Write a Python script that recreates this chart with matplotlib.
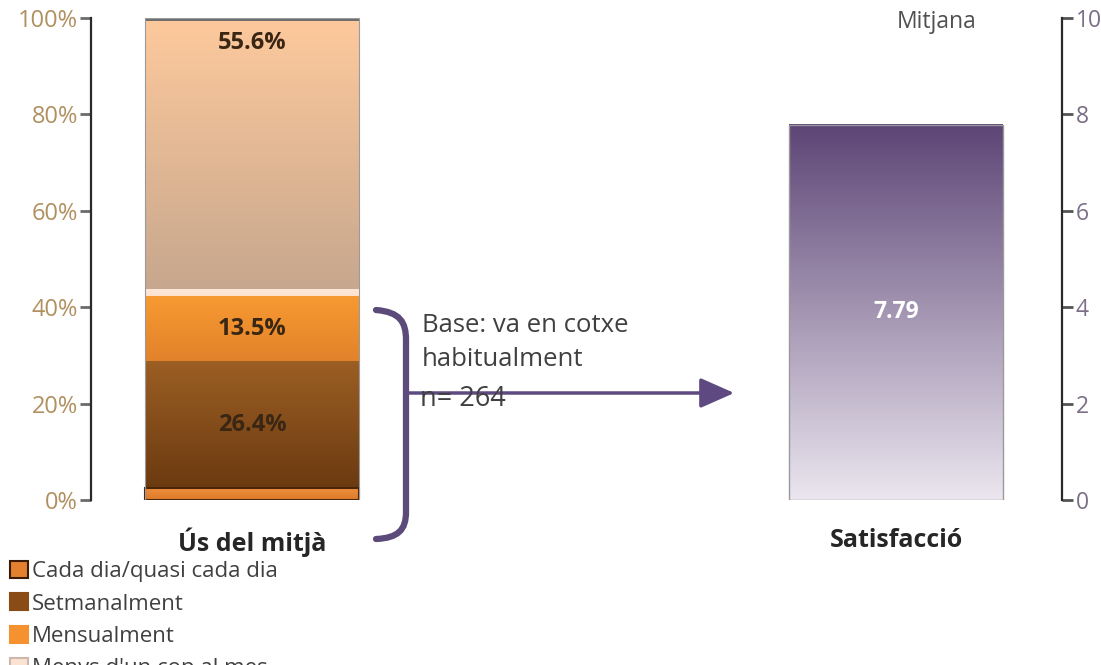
import matplotlib
matplotlib.use("Agg")
import matplotlib.pyplot as plt
import numpy as np
from matplotlib.patches import Patch, PathPatch, FancyArrowPatch
from matplotlib.path import Path
from matplotlib.colors import LinearSegmentedColormap

plt.rcParams['font.family'] = ['Open Sans', 'DejaVu Sans']

# ---------------- data ----------------
categories = ["Ús del mitjà", "Satisfacció"]
freq_labels = ["Cada dia/quasi cada dia", "Setmanalment", "Mensualment",
               "Menys d'un cop al mes"]
freq_values = [2.4, 26.4, 13.5, 1.4, 55.6, 0.7]
freq_shown = [False, True, True, False, True, False]
satisfaction_mean = 7.79
pct_ticks = [0, 20, 40, 60, 80, 100]
pct_tick_labels = ["0%", "20%", "40%", "60%", "80%", "100%"]
score_ticks = [0, 2, 4, 6, 8, 10]

# ---------------- style ----------------
seg_top = ["#ee8f3e", "#9c5f24", "#f89a32", "#fde8d8", "#fdc99c", "#6e6e6e"]
seg_bot = ["#dd7a28", "#6b3a10", "#e2822a", "#fbe2cf", "#c7a78e", "#6e6e6e"]
seg_edge = ["#4a2508", None, None, None, None, None]
legend_face = ["#e3812f", "#8a4c16", "#f5922f", "#fbe3d3"]
legend_edge = ["#3a1c06", "#8a4c16", "#f5922f", "#cdb8aa"]

W, H = 1101, 665
fig = plt.figure(figsize=(W / 100, H / 100), dpi=100)
ax1 = fig.add_axes([91 / W, 165 / H, 971 / W, 482 / H])
ax2 = ax1.twinx()

bar_w = 0.332
xpos = [0, 1]


def grad_fill(ax, x, y, w, h, top, bottom, z):
    cmap = LinearSegmentedColormap.from_list("g", [bottom, top])
    arr = np.linspace(0, 1, 256).reshape(-1, 1)
    ax.imshow(arr, cmap=cmap, extent=[x - w / 2, x + w / 2, y, y + h],
              origin="lower", aspect="auto", zorder=z, interpolation="bilinear")


# stacked bar (left axis)
bottom = 0
for i, v in enumerate(freq_values):
    ax1.bar(xpos[0], v, bar_w, bottom=bottom, color=seg_bot[i], linewidth=0, zorder=2)
    grad_fill(ax1, xpos[0], bottom, bar_w, v, seg_top[i], seg_bot[i], 2.5)
    if seg_edge[i]:
        ax1.bar(xpos[0], v, bar_w, bottom=bottom, fill=False, edgecolor=seg_edge[i],
                linewidth=1.5, zorder=3)
    if freq_shown[i]:
        if i == 4:
            ax1.text(xpos[0], bottom + v - 2.0, f"{v:.1f}%", ha="center", va="top",
                     fontsize=17, fontweight="bold", color="#3a2614", zorder=5)
        else:
            ax1.text(xpos[0], bottom + v / 2, f"{v:.1f}%", ha="center", va="center",
                     fontsize=17, fontweight="bold", color="#3a2614", zorder=5)
    bottom += v
ax1.bar(xpos[0], bottom, bar_w, fill=False, edgecolor="#9a9a9a", linewidth=0.8, zorder=3)

# satisfaction bar (right axis)
ax2.bar(xpos[1], satisfaction_mean, bar_w, color="#a08cb8", linewidth=0, zorder=2)
grad_fill(ax2, xpos[1], 0, bar_w, satisfaction_mean, "#5d4576", "#ebe6ef", 2.5)
ax2.bar(xpos[1], satisfaction_mean, bar_w, fill=False, edgecolor="#9a9a9a",
        linewidth=1.0, zorder=3)
ax2.text(xpos[1], satisfaction_mean / 2, f"{satisfaction_mean:.2f}", ha="center",
         va="center", fontsize=16.5, fontweight="bold", color="white", zorder=5)

# axes
ax1.set_xlim(-0.25, 1.2578)
ax1.set_ylim(0, 100)
ax2.set_ylim(0, 10)
ax1.set_yticks(pct_ticks, pct_tick_labels)
ax2.set_yticks(score_ticks, [str(t) for t in score_ticks])
ax1.set_xticks(xpos, categories)
ax1.tick_params(axis="x", length=0, pad=20, labelsize=18, labelcolor="#262626")
for lbl in ax1.get_xticklabels():
    lbl.set_fontweight("bold")
ax1.tick_params(axis="y", direction="out", length=8, width=2, color="#6a6a6a",
                labelcolor="#b0905f", labelsize=17, pad=1.5)
ax2.tick_params(axis="y", direction="out", length=8, width=2, color="#555555",
                labelcolor="#7b6f87", labelsize=16.5, pad=2)
for s in ["top", "right", "bottom"]:
    ax1.spines[s].set_visible(False)
for s in ["top", "left", "bottom"]:
    ax2.spines[s].set_visible(False)
ax1.spines["left"].set_color("#2a2a2a")
ax1.spines["left"].set_linewidth(1.6)
ax2.spines["right"].set_color("#2a2a2a")
ax2.spines["right"].set_linewidth(1.6)


def fp(x, y):
    return (x / W, 1 - y / H)


fig.text(*fp(937, 22), "Mitjana", ha="center", va="center", fontsize=16.5, color="#505050")

# bracket
verts = [fp(376, 310), fp(400, 312), fp(406, 322), fp(406, 340),
         fp(406, 512), fp(406, 530), fp(398, 538), fp(376, 539)]
codes = [Path.MOVETO, Path.CURVE4, Path.CURVE4, Path.CURVE4,
         Path.LINETO, Path.CURVE4, Path.CURVE4, Path.CURVE4]
fig.add_artist(PathPatch(Path(verts, codes), transform=fig.transFigure, fill=False,
                         edgecolor="#5b4a7a", linewidth=4.5, capstyle="round"))

# arrow
fig.add_artist(FancyArrowPatch(fp(404, 393), fp(737, 393), transform=fig.transFigure,
                               arrowstyle="-|>,head_length=0.95,head_width=0.42",
                               mutation_scale=22, color="#5e4a80", linewidth=2.5))

fig.text(*fp(422, 326), "Base: va en cotxe", ha="left", va="center", fontsize=18.5, color="#404040")
fig.text(*fp(422, 360), "habitualment", ha="left", va="center", fontsize=18.5, color="#404040")
fig.text(*fp(420, 399), "n= 264", ha="left", va="center", fontsize=19.5, color="#404040")

# legend
handles = [Patch(facecolor=legend_face[i], edgecolor=legend_edge[i], linewidth=1.5)
           for i in range(len(freq_labels))]
fig.legend(handles, freq_labels, loc="upper left", bbox_to_anchor=fp(10, 561),
           frameon=False, fontsize=16, handlelength=0.8, handleheight=0.8,
           handletextpad=0.2, labelspacing=0.5, borderpad=0, borderaxespad=0,
           labelcolor="#404040")

fig.savefig("out.png", dpi=100)
